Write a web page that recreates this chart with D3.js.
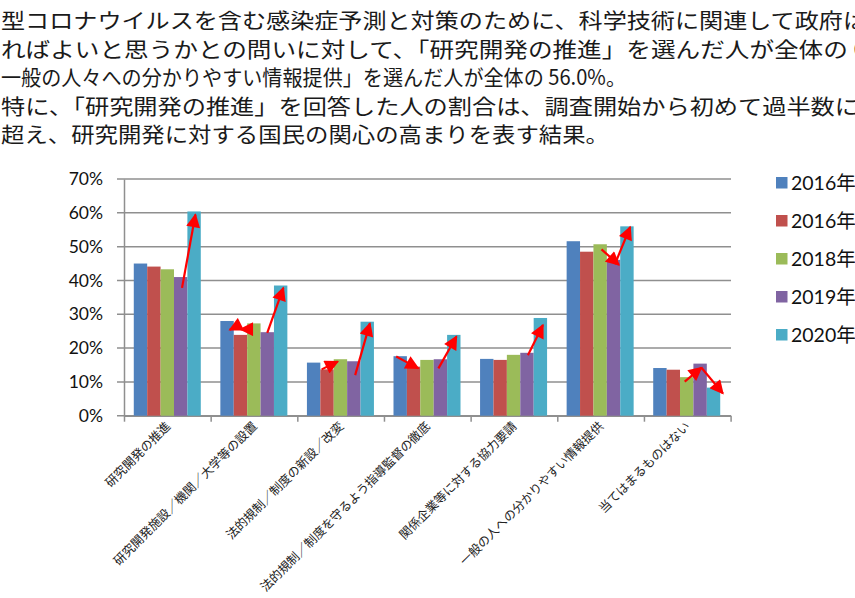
<!DOCTYPE html>
<html>
<head>
<meta charset="utf-8">
<script src="https://cdn.jsdelivr.net/npm/d3@7"></script>
<style>
  html, body { margin: 0; padding: 0; background: #fff; overflow: hidden; }
  svg { display: block; }
</style>
</head>
<body>
<div id="viz"></div>
<script>
// chart values
var titleLines = [
	"型コロナウイルスを含む感染症予測と対策のために、科学技術に関連して政府は",
	"ればよいと思うかとの問いに対して、「研究開発の推進」を選んだ人が全体の 6",
	"一般の人々への分かりやすい情報提供」を選んだ人が全体の 56.0%。",
	"特に、「研究開発の推進」を回答した人の割合は、調査開始から初めて過半数に",
	"超え、研究開発に対する国民の関心の高まりを表す結果。"
];
var categories = [
	"研究開発の推進",
	"研究開発施設／機関／大学等の設置",
	"法的規制／制度の新設／改変",
	"法的規制／制度を守るよう指導監督の徹底",
	"関係企業等に対する協力要請",
	"一般の人への分かりやすい情報提供",
	"当てはまるものはない"
];
var seriesNames = ["2016年", "2016年", "2018年", "2019年", "2020年"];
var values2016a = [45.0, 28.0, 15.7, 17.6, 16.8, 51.6, 14.1];
var values2016b = [44.1, 23.9, 13.7, 14.5, 16.5, 48.5, 13.6];
var values2018 = [43.3, 27.3, 16.7, 16.5, 18.0, 50.7, 11.4];
var values2019 = [41.0, 24.7, 16.1, 16.7, 18.6, 46.1, 15.4];
var values2020 = [60.4, 38.5, 27.8, 23.9, 28.9, 56.0, 8.3];
var yTicks = [0, 10, 20, 30, 40, 50, 60, 70];
// red arrows: [category, tail series pos, tail value, tip series pos, tip value]
var arrows = [
	[0, 3.6, 37.8, 4.6, 59.5],
	[1, 1.2, 26.4, 0.7, 25.4],
	[1, 2.4, 25.6, 1.5, 25.6],
	[1, 3.5, 24.5, 4.7, 37.8],
	[2, 1.1, 13.7, 2.3, 16.0],
	[2, 3.6, 12.0, 4.7, 27.3],
	[3, 0.2, 17.5, 1.85, 14.0],
	[3, 3.35, 14.0, 4.7, 23.4],
	[4, 3.57, 17.9, 4.69, 26.8],
	[5, 2.6, 49.2, 3.9, 44.6],
	[5, 3.6, 44.8, 4.74, 55.8],
	[6, 2.35, 10.1, 3.6, 14.2],
	[6, 3.6, 14.2, 5.2, 6.6]
];

var width = 855, height = 598;
var colors = ["#4f81bd", "#c0504d", "#9bbb59", "#8064a2", "#4bacc6"];
var series = [values2016a, values2016b, values2018, values2019, values2020];
// how far each title line runs across the slide (the first, second and fourth run off the edge)
var titleSpan = [866, 866, 625, 858, 608];

var svg = d3.select("#viz")
	.append("svg")
		.attr("width", width)
		.attr("height", height);

// title block
svg.selectAll("text.title")
	.data(titleLines)
	.enter()
	.append("text")
		.attr("class", "title")
		.attr("x", 1)
		.attr("y", function (d, i) { return 28 + i * 28.6; })
		.attr("textLength", function (d, i) { return titleSpan[i]; })
		.attr("lengthAdjust", "spacingAndGlyphs")
		.style("font-family", "'Noto Sans CJK JP', sans-serif")
		.style("font-size", "21px")
		.style("fill", "#1a1a1a")
		.text(function (d) { return d; });

var x0 = d3.scaleBand()
	.domain(d3.range(categories.length))
	.range([124, 730])
	.paddingInner(0.226)
	.paddingOuter(0.113);
var x1 = d3.scaleBand()
	.domain(d3.range(series.length))
	.range([0, x0.bandwidth()]);
var xs = d3.scaleLinear()
	.domain([0, series.length])
	.range([0, x0.bandwidth()]);
var y = d3.scaleLinear()
	.domain([0, 70])
	.range([415.7, 179]);

// gridlines
svg.selectAll("line.grid")
	.data(yTicks)
	.enter()
	.append("line")
		.attr("class", "grid")
		.attr("x1", 117)
		.attr("x2", 731)
		.attr("y1", function (d) { return y(d); })
		.attr("y2", function (d) { return y(d); })
		.style("stroke", "#8f8f8f")
		.style("stroke-width", 1.5);

// y axis
var yAxis = svg.append("g")
	.attr("transform", "translate(124,0)")
	.call(d3.axisLeft(y).tickValues(yTicks).tickSize(0).tickPadding(21)
		.tickFormat(function (d) { return d + "%"; }));
yAxis.select(".domain").style("stroke", "#8f8f8f").style("stroke-width", 1.5);
yAxis.selectAll("text")
	.style("font-family", "Lato, 'Open Sans', sans-serif")
	.style("font-size", "17.5px")
	.style("fill", "#111");

// bottom axis with ticks between categories
var xEdge = d3.scaleLinear().domain([0, categories.length]).range([124, 730.6]);
var xAxis = svg.append("g")
	.attr("transform", "translate(0," + y(0) + ")")
	.call(d3.axisBottom(xEdge).tickValues(d3.range(categories.length + 1))
		.tickSize(6).tickSizeOuter(0).tickFormat(""));
xAxis.select(".domain").style("stroke", "#8f8f8f").style("stroke-width", 1.5);
xAxis.selectAll(".tick line").style("stroke", "#8f8f8f").style("stroke-width", 1.5);

// bars
var groups = svg.selectAll("g.cat")
	.data(categories)
	.enter()
	.append("g")
		.attr("class", "cat")
		.attr("transform", function (d, i) { return "translate(" + x0(i) + ",0)"; });
groups.selectAll("rect")
	.data(function (d, i) { return series.map(function (s, k) { return { k: k, v: s[i] }; }); })
	.enter()
	.append("rect")
		.attr("x", function (d) { return x1(d.k); })
		.attr("y", function (d) { return y(d.v); })
		.attr("width", x1.bandwidth())
		.attr("height", function (d) { return y(0) - y(d.v); })
		.attr("fill", function (d) { return colors[d.k]; });

// category labels, rotated
svg.selectAll("text.cat")
	.data(categories)
	.enter()
	.append("text")
		.attr("class", "cat")
		.attr("transform", function (d, i) {
			return "translate(" + (x0(i) + x0.bandwidth() / 2 + 4) + ",427) rotate(-45)";
		})
		.attr("text-anchor", "end")
		.style("font-family", "'Noto Sans CJK JP', sans-serif")
		.style("font-size", "12.3px")
		.style("fill", "#222")
		.text(function (d) { return d; });

// red arrows
svg.append("defs").append("marker")
	.attr("id", "head")
	.attr("viewBox", "0 0 10 10")
	.attr("refX", 9)
	.attr("refY", 5)
	.attr("markerUnits", "userSpaceOnUse")
	.attr("markerWidth", 16)
	.attr("markerHeight", 14)
	.attr("orient", "auto")
	.append("path")
		.attr("d", "M0,0L10,5L0,10Z")
		.attr("fill", "#ff0000");

svg.selectAll("line.arrow")
	.data(arrows)
	.enter()
	.append("line")
		.attr("class", "arrow")
		.attr("x1", function (d) { return x0(d[0]) + xs(d[1]); })
		.attr("y1", function (d) { return y(d[2]); })
		.attr("x2", function (d) { return x0(d[0]) + xs(d[3]); })
		.attr("y2", function (d) { return y(d[4]); })
		.style("stroke", "#ff0000")
		.style("stroke-width", 2.2)
		.attr("marker-end", "url(#head)");

// legend
var legend = svg.selectAll("g.legend")
	.data(seriesNames)
	.enter()
	.append("g")
		.attr("class", "legend")
		.attr("transform", function (d, i) { return "translate(776," + (177 + i * 38) + ")"; });
legend.append("rect")
	.attr("width", 11.5)
	.attr("height", 11.5)
	.attr("fill", function (d, i) { return colors[i]; });
legend.append("text")
	.attr("x", 15)
	.attr("y", 13)
	.style("font-family", "Lato, 'Noto Sans CJK JP', sans-serif")
	.style("font-size", "19.5px")
	.style("fill", "#111")
	.text(function (d) { return d; });
</script>
</body>
</html>
